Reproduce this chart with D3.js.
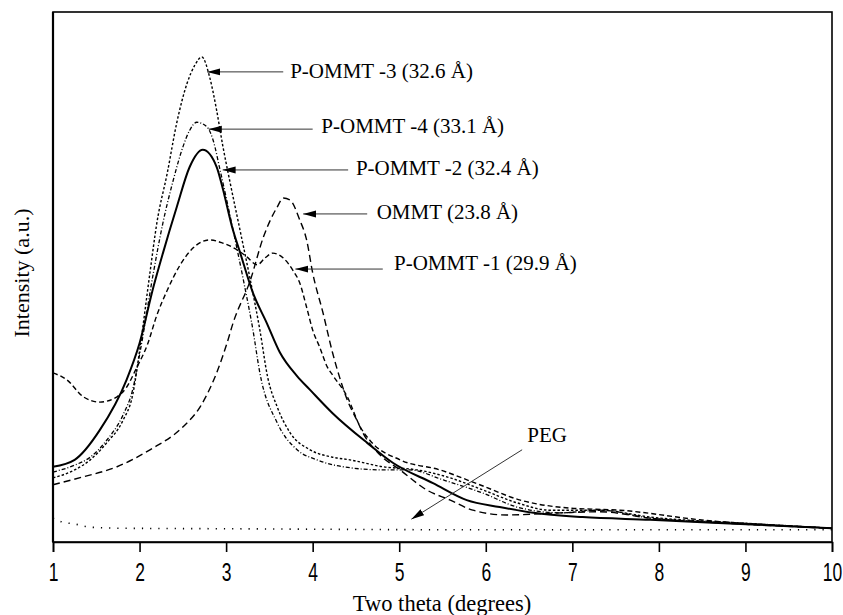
<!DOCTYPE html>
<html>
<head>
<meta charset="utf-8">
<script src="https://cdn.jsdelivr.net/npm/d3@7"></script>
<style>
  html, body { margin: 0; padding: 0; background: #fff; }
  svg { display: block; }
</style>
</head>
<body>
<svg id="chart" width="843" height="615"></svg>
<script>
// ---------- data (two theta in degrees, intensity in arbitrary units) ----------
const xTickValues = [1, 2, 3, 4, 5, 6, 7, 8, 9, 10];

const pOmmt2 = [ // solid
  [1.00,14.2],[1.25,15.5],[1.54,21.1],[1.85,30.6],[2.00,37.5],[2.16,48.1],[2.27,54.5],
  [2.43,63.2],[2.58,70.8],[2.73,74.0],[2.89,70.8],[2.96,66.8],[3.07,59.4],[3.16,54.7],
  [3.31,47.0],[3.47,41.3],[3.62,35.8],[3.82,31.3],[3.97,28.7],[4.23,24.3],[4.63,18.7],
  [4.93,14.9],[5.39,11.1],[5.78,7.9],[6.16,6.6],[6.55,5.5],[7.12,4.7],[7.90,4.2],
  [8.94,3.4],[10.00,2.6]
];
const pOmmt3 = [
  [1.00,12.1],[1.25,13.6],[1.43,15.5],[1.62,18.7],[1.81,23.0],[1.92,27.7],[2.01,37.2],
  [2.12,50.8],[2.20,60.2],[2.32,69.6],[2.43,79.1],[2.55,86.6],[2.64,90.0],[2.72,91.5],
  [2.81,87.7],[2.89,81.5],[2.96,74.9],[3.04,68.3],[3.16,58.9],[3.28,49.4],[3.39,40.0],
  [3.48,31.1],[3.59,25.5],[3.74,20.6],[3.97,17.4],[4.23,16.0],[4.43,15.5],[4.81,14.2],
  [5.21,13.6],[5.59,12.1],[5.97,9.8],[6.36,7.4],[6.74,6.0],[7.32,6.0],[7.90,4.7],
  [8.94,3.6],[10.00,2.6]
];
const pOmmt4 = [
  [1.00,13.2],[1.25,14.5],[1.43,16.0],[1.62,19.2],[1.81,24.0],[1.92,28.7],[2.01,36.2],
  [2.16,50.8],[2.27,60.2],[2.39,68.3],[2.50,74.5],[2.58,77.7],[2.66,79.2],[2.78,78.3],
  [2.85,75.8],[2.93,70.2],[3.08,58.9],[3.20,49.4],[3.31,40.0],[3.39,31.9],[3.59,22.5],
  [3.82,17.4],[4.05,15.5],[4.35,14.2],[4.81,13.6],[5.12,13.6],[5.51,11.7],[5.97,9.2],
  [6.36,6.6],[6.86,5.5],[7.32,6.0],[7.90,4.5],[8.94,3.6],[10.00,2.6]
];
const ommt = [
  [1.00,10.8],[1.35,12.3],[1.74,14.2],[2.12,17.4],[2.50,21.7],[2.70,25.5],[2.89,31.9],
  [3.01,37.5],[3.08,41.3],[3.28,49.4],[3.43,57.5],[3.59,63.2],[3.66,64.9],[3.74,64.5],
  [3.85,60.8],[3.93,57.0],[4.00,50.8],[4.12,43.2],[4.23,35.7],[4.32,30.6],[4.40,26.8],
  [4.51,23.0],[4.58,20.6],[4.78,16.4],[5.01,13.6],[5.32,9.8],[5.59,7.9],[5.85,6.0],
  [6.24,5.1],[6.86,5.5],[7.32,5.7],[7.90,4.5],[8.94,3.4],[10.00,2.6]
];
const pOmmt1 = [
  [1.00,31.9],[1.16,30.6],[1.35,27.4],[1.54,26.4],[1.74,27.4],[1.85,29.2],[1.97,33.0],
  [2.09,37.2],[2.20,42.8],[2.32,47.5],[2.47,52.3],[2.62,55.5],[2.81,57.0],[2.96,56.4],
  [3.13,55.1],[3.24,53.8],[3.36,52.3],[3.45,53.6],[3.54,54.5],[3.66,53.6],[3.77,51.3],
  [3.85,48.9],[3.93,44.3],[4.00,40.0],[4.08,36.8],[4.17,33.0],[4.23,31.5],[4.40,27.4],
  [4.55,21.7],[4.66,19.2],[5.01,15.5],[5.47,13.6],[5.93,10.8],[6.40,7.9],[6.97,6.4],
  [7.55,6.0],[8.47,4.2],[10.00,2.6]
];
const peg = [
  [1.00,4.5],[1.10,3.8],[1.25,3.4],[1.43,2.8],[1.77,2.6],[3.00,2.5],[6.00,2.3],[10.00,2.3]
];

// annotation labels: text, arrow tip (theta, intensity), arrow tail, text anchor point
const annotations = [
  { text: "P-OMMT -3 (32.6 Å)", tip: [2.78, 88.7], tail: [3.66, 88.7], at: [3.74, 87.5] },
  { text: "P-OMMT -4 (33.1 Å)", tip: [2.80, 77.9], tail: [4.00, 77.9], at: [4.10, 77.2] },
  { text: "P-OMMT -2 (32.4 Å)", tip: [2.96, 70.2], tail: [4.41, 70.2], at: [4.50, 69.2] },
  { text: "OMMT (23.8 Å)",      tip: [3.89, 61.9], tail: [4.63, 61.9], at: [4.74, 60.9] },
  { text: "P-OMMT -1 (29.9 Å)", tip: [3.80, 51.5], tail: [4.81, 51.5], at: [4.94, 51.3] },
  { text: "PEG",                tip: [5.14, 4.3],  tail: [6.42, 17.4], at: [6.48, 18.9] }
];

// ---------- layout ----------
const svg = d3.select("#chart");
const mLeft = 53, mRight = 832, mTop = 12, mBottom = 542;
const x = d3.scaleLinear().domain([1, 10]).range([mLeft, mRight]);
const y = d3.scaleLinear().domain([0, 100]).range([mBottom, mTop]);

const series = [
  { data: peg,    dash: "1.2,7",   width: 1.6 },
  { data: ommt,   dash: "7,4",     width: 1.4 },
  { data: pOmmt1, dash: "5,3",     width: 1.4 },
  { data: pOmmt4, dash: "4,2,1,2", width: 1.3 },
  { data: pOmmt3, dash: "2.5,2",   width: 1.4 },
  { data: pOmmt2, dash: null,      width: 2.0 }
];

const line = d3.line()
  .x(d => x(d[0]))
  .y(d => y(d[1]))
  .curve(d3.curveMonotoneX);

svg.append("g").selectAll("path")
  .data(series)
  .join("path")
  .attr("d", d => line(d.data))
  .attr("fill", "none")
  .attr("stroke", "#000")
  .attr("stroke-width", d => d.width)
  .attr("stroke-dasharray", d => d.dash);

// frame
svg.append("rect")
  .attr("x", mLeft).attr("y", mTop)
  .attr("width", mRight - mLeft).attr("height", mBottom - mTop)
  .attr("fill", "none").attr("stroke", "#000").attr("stroke-width", 1.6);
svg.append("line")
  .attr("x1", mLeft).attr("x2", mLeft).attr("y1", mTop).attr("y2", mBottom)
  .attr("stroke", "#000").attr("stroke-width", 2.2);

// x axis
const xAxis = d3.axisBottom(x).tickValues(xTickValues).tickSize(10).tickFormat(d3.format("d"));
const gx = svg.append("g").attr("transform", `translate(0,${mBottom})`).call(xAxis);
gx.select(".domain").attr("stroke-width", 1.6);
gx.selectAll(".tick line").attr("stroke-width", 1.6);
gx.selectAll(".tick text")
  .attr("y", 39).attr("dy", null)
  .attr("transform", "scale(0.7,1)")
  .attr("font-family", "'Liberation Sans', Arial, sans-serif")
  .attr("font-size", 25)
  .attr("fill", "#000");

// axis titles
svg.append("text")
  .attr("x", 442).attr("y", 611)
  .attr("text-anchor", "middle")
  .attr("font-family", "'Liberation Serif', 'Times New Roman', serif")
  .attr("font-size", 22.5)
  .text("Two theta (degrees)");

svg.append("text")
  .attr("transform", "translate(29,273) rotate(-90)")
  .attr("text-anchor", "middle")
  .attr("font-family", "'Liberation Serif', 'Times New Roman', serif")
  .attr("font-size", 22)
  .text("Intensity (a.u.)");

// arrow marker
svg.append("defs").append("marker")
  .attr("id", "arrow")
  .attr("markerUnits", "userSpaceOnUse")
  .attr("viewBox", "0 -4 13 8")
  .attr("refX", 13).attr("refY", 0)
  .attr("markerWidth", 13).attr("markerHeight", 8)
  .attr("orient", "auto")
  .append("path")
  .attr("d", "M0,-3.5L13,0L0,3.5Z")
  .attr("fill", "#000");

const ann = svg.append("g");
ann.selectAll("line")
  .data(annotations)
  .join("line")
  .attr("x1", d => x(d.tail[0])).attr("y1", d => y(d.tail[1]))
  .attr("x2", d => x(d.tip[0])).attr("y2", d => y(d.tip[1]))
  .attr("stroke", "#333").attr("stroke-width", 1)
  .attr("marker-end", "url(#arrow)");
ann.selectAll("text")
  .data(annotations)
  .join("text")
  .attr("x", d => x(d.at[0])).attr("y", d => y(d.at[1]))
  .attr("font-family", "'Liberation Serif', 'Times New Roman', serif")
  .attr("font-size", 21)
  .attr("fill", "#000")
  .text(d => d.text);
</script>
</body>
</html>
